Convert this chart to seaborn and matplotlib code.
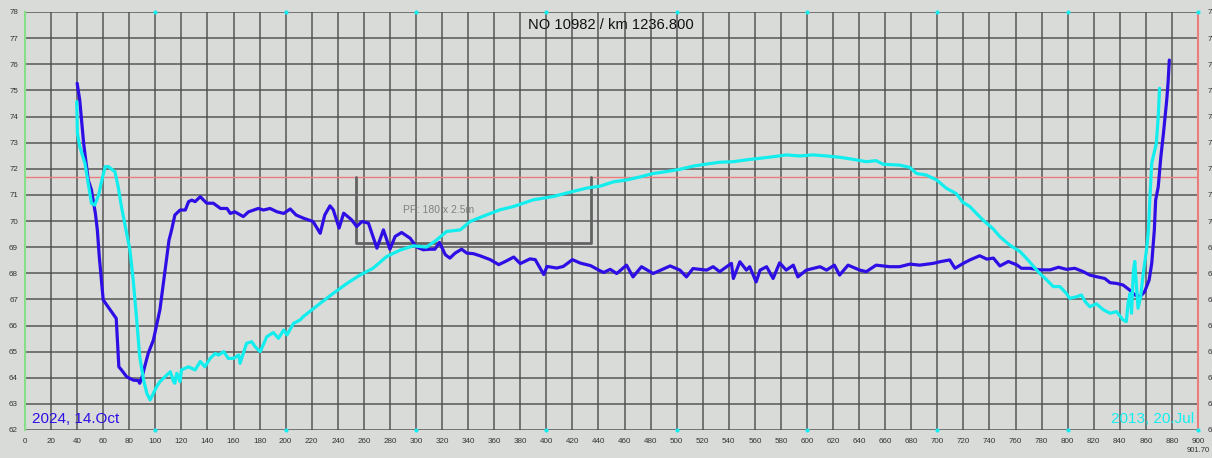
import numpy as np
import pandas as pd
import matplotlib
matplotlib.use("Agg")
import matplotlib.pyplot as plt
import seaborn as sns

# ---- data ----
blue_x = [40, 42, 45, 48.5, 51, 54, 55.5, 57, 60, 70, 72, 74, 78, 83, 87, 88, 89.5, 94.5, 98.5, 103.5,
          108.5, 110.5, 112.5, 115, 119, 123, 125.5, 128, 130.5, 134.5, 137, 139.5, 144.5, 150, 155, 157.5,
          161, 167.5, 171.5, 175.5, 179, 183, 188, 193.5, 198.5, 203.5, 208, 213.5, 221, 226.5, 230, 234,
          236.5, 241, 244.5, 250.5, 254.5, 258.5, 263.5, 270, 275, 280, 284, 289, 295.5, 300.5, 305.5, 311,
          314.5, 318, 322.5, 326, 330, 335, 339, 344, 349, 357, 363.5, 368.5, 375, 380, 387.5, 391.5, 398,
          400.5, 408, 413, 420, 426, 434, 441, 444, 449, 454, 461.5, 466.5, 473, 482, 495, 502.5, 507.5,
          512.5, 523, 528, 533, 542, 543.5, 548.5, 553.5, 556, 561, 564, 569, 574, 579, 584, 589.5, 593,
          599.5, 610, 615, 621, 625, 631.5, 640.5, 645.5, 653, 663.5, 671, 679, 686.5, 697, 702, 709.5,
          713.5, 720, 725, 732.5, 738, 743, 748, 754.5, 761, 764.5, 771, 778.5, 786.5, 793, 799, 805.5,
          812, 817, 822, 828.5, 832.5, 837.5, 842.5, 847.5, 851.5, 855.5, 859, 862.5, 864.5, 866.5, 867.5,
          869.5, 871.5, 873.5, 876, 877, 878]
blue_y = [75.27, 74.63, 72.97, 71.57, 71.19, 70.29, 69.66, 68.63, 66.98, 66.27, 64.42, 64.30, 64.04, 63.91,
          63.89, 63.79, 63.98, 64.93, 65.44, 66.60, 68.50, 69.27, 69.66, 70.23, 70.42, 70.42, 70.74, 70.80,
          70.74, 70.93, 70.80, 70.68, 70.68, 70.48, 70.48, 70.29, 70.35, 70.17, 70.35, 70.42, 70.48, 70.42,
          70.48, 70.35, 70.29, 70.46, 70.23, 70.11, 69.98, 69.53, 70.23, 70.58, 70.43, 69.73, 70.30, 70.05,
          69.79, 69.98, 69.92, 68.96, 69.66, 68.92, 69.41, 69.56, 69.34, 69.00, 68.90, 68.92, 68.92, 69.18,
          68.71, 68.58, 68.77, 68.92, 68.77, 68.75, 68.67, 68.52, 68.33, 68.45, 68.62, 68.37, 68.55, 68.52,
          67.95, 68.26, 68.20, 68.26, 68.52, 68.39, 68.29, 68.10, 68.03, 68.15, 67.99, 68.31, 67.86, 68.25,
          67.99, 68.28, 68.12, 67.86, 68.18, 68.12, 68.25, 68.06, 68.38, 67.80, 68.44, 68.12, 68.25, 67.67,
          68.12, 68.25, 67.80, 68.40, 68.12, 68.31, 67.86, 68.12, 68.25, 68.12, 68.31, 67.93, 68.31, 68.12,
          68.06, 68.31, 68.25, 68.25, 68.35, 68.31, 68.38, 68.44, 68.51, 68.19, 68.38, 68.51, 68.67, 68.54,
          68.58, 68.28, 68.45, 68.32, 68.19, 68.19, 68.13, 68.13, 68.23, 68.15, 68.19, 68.06, 67.93, 67.87,
          67.80, 67.64, 67.61, 67.55, 67.36, 67.17, 67.10, 67.29, 67.74, 68.38, 69.66, 70.80, 71.31, 72.46,
          73.36, 74.63, 75.27, 76.16]

cyan_x = [39.7, 40.2, 42, 46, 48.5, 51, 53.5, 56.5, 59, 61.5, 64, 69, 71.5, 74, 77.5, 80.5, 83, 85.5, 88,
          91, 93.5, 96, 98.5, 101, 103.5, 107.5, 111.5, 114, 115, 116.5, 119, 120, 125.5, 130.5, 134.5,
          138, 142, 146, 148.5, 152.5, 156, 160, 164, 165, 170, 174, 176.5, 180.5, 185.5, 190.5, 194.5,
          198.5, 201, 206, 211, 213.5, 226.5, 236.5, 247, 257, 267, 277.5, 288, 298, 308, 316, 323.5, 334,
          341.5, 354, 364.5, 374.5, 390, 405.5, 415.5, 431, 441, 451.5, 461.5, 472, 482, 492, 502.5, 512.5,
          523, 533, 543.5, 553.5, 564, 574, 584, 594.5, 604.5, 615, 625, 635.5, 645.5, 653, 658.5, 671,
          679, 684, 691.5, 699.5, 707, 714.5, 719.5, 725, 730, 735, 743, 748, 755.5, 763.5, 769.5, 775,
          778.5, 784, 789, 794, 799, 801.5, 807, 810.5, 813.5, 817, 822, 827.5, 832.5, 837.5, 842.5, 845,
          846.5, 848, 849, 850.5, 851.5, 854, 856, 858, 860.5, 862, 863, 864.5, 868, 869.5, 870.5]
cyan_y = [74.57, 73.36, 72.85, 72.21, 71.44, 70.68, 70.61, 71.00, 71.57, 72.08, 72.08, 71.89, 71.31, 70.55,
          69.66, 68.89, 67.74, 66.34, 64.81, 63.91, 63.40, 63.15, 63.40, 63.66, 63.85, 64.04, 64.23, 63.85,
          63.79, 64.17, 63.85, 64.30, 64.42, 64.30, 64.62, 64.42, 64.74, 64.93, 64.87, 65.00, 64.74, 64.74,
          64.87, 64.55, 65.32, 65.38, 65.19, 65.00, 65.57, 65.73, 65.51, 65.83, 65.64, 66.08, 66.21, 66.34,
          66.85, 67.23, 67.61, 67.93, 68.19, 68.64, 68.89, 69.05, 69.00, 69.28, 69.60, 69.66, 69.98, 70.23,
          70.43, 70.55, 70.81, 70.94, 71.07, 71.26, 71.33, 71.50, 71.57, 71.69, 71.82, 71.89, 71.98, 72.10,
          72.18, 72.25, 72.27, 72.34, 72.40, 72.46, 72.53, 72.49, 72.53, 72.49, 72.44, 72.36, 72.27, 72.31,
          72.17, 72.14, 72.05, 71.82, 71.76, 71.57, 71.25, 71.05, 70.72, 70.55, 70.29, 70.04, 69.69, 69.40,
          69.08, 68.83, 68.51, 68.19, 68.00, 67.74, 67.49, 67.49, 67.23, 67.04, 67.10, 67.17, 66.91, 66.72,
          66.83, 66.60, 66.47, 66.53, 66.21, 66.15, 66.91, 67.23, 66.47, 68.13, 68.45, 66.66, 67.10, 68.00,
          68.89, 69.66, 70.80, 72.21, 72.97, 73.99, 75.08]

bracket_x = [254, 254, 434, 434]
bracket_y = [71.70, 69.17, 69.17, 71.70]
limit_y = 71.68
x_ticks = list(range(0, 901, 20))
y_ticks = list(range(62, 79))
marker_x = list(range(100, 901, 100))

title_text = "NO 10982 / km 1236.800"
bracket_text = "PP: 180 x 2.5m"
label_new = "2024, 14.Oct"
label_old = "2013, 20.Jul"
corner_text = "901.70"

# ---- style ----
BG = "#d9dbd9"
sns.set_theme(style="white", rc={"axes.facecolor": BG, "figure.facecolor": BG})
plt.rcParams["font.family"] = ["Liberation Sans", "DejaVu Sans"]

fig = plt.figure(figsize=(12.12, 4.58), dpi=100)
ax = fig.add_axes([25 / 1212, 28 / 458, 1173 / 1212, 418 / 458])

blue_df = pd.DataFrame({"x": blue_x, "y": blue_y})
cyan_df = pd.DataFrame({"x": cyan_x, "y": cyan_y})

ax.set_xlim(0, 900)
ax.set_ylim(62, 78)
ax.set_xticks(x_ticks)
ax.set_yticks(y_ticks)
ax.grid(True, color="#4e4e4e", linewidth=1.15, alpha=0.9)
ax.set_axisbelow(True)

ax.axhline(limit_y, color="#ec7c7c", linewidth=1.0, zorder=2)
ax.plot(bracket_x, bracket_y, color="#626262", linewidth=2.0, zorder=2)
ax.text(317, 70.42, bracket_text, color="#808080", fontsize=7.5, ha="center", va="center", zorder=2)

sns.lineplot(data=blue_df, x="x", y="y", ax=ax, color="#2d0fe6", linewidth=2.3,
             estimator=None, sort=False, zorder=3)
sns.lineplot(data=cyan_df, x="x", y="y", ax=ax, color="#12eded", linewidth=2.3,
             estimator=None, sort=False, zorder=4)

ax.scatter(marker_x, [78] * len(marker_x), s=9, color="#12eded", clip_on=False, zorder=5, linewidths=0)
ax.scatter(marker_x, [62] * len(marker_x), s=9, color="#12eded", clip_on=False, zorder=5, linewidths=0)

ax.text(449.6, 77.5, title_text, fontsize=10.6, color="#111111", ha="center", va="center")
ax.text(5.4, 62.27, label_new, fontsize=11, color="#2d0fe6", ha="left", va="baseline")
ax.text(897, 62.27, label_old, fontsize=11, color="#12eded", ha="right", va="baseline")
fig.text(1210 / 1212, 4 / 458, corner_text, fontsize=5.5, color="#333333", ha="right", va="bottom")

ax.set_xlabel("")
ax.set_ylabel("")
ax.tick_params(axis="both", length=0, labelsize=5.8, labelcolor="#333333")
ax.tick_params(axis="x", pad=6)
ax.tick_params(axis="y", pad=5, labelright=True)
for lbl in ax.get_yticklabels(which="major"):
    pass
ax.yaxis.set_tick_params(which="major", pad=5)
for t in ax.yaxis.get_major_ticks():
    t.label2.set_x(1.0)
    t.set_pad(5)
# shift right-side labels a bit further out so they are cut by the image edge
import matplotlib.transforms as mtransforms
offset = mtransforms.ScaledTranslation(3 / 100, 0, fig.dpi_scale_trans)
for t in ax.yaxis.get_major_ticks():
    t.label2.set_transform(t.label2.get_transform() + offset)

for side in ("top", "bottom"):
    ax.spines[side].set_visible(False)
ax.spines["left"].set_color("#86e086")
ax.spines["left"].set_linewidth(1.5)
ax.spines["right"].set_color("#ec7c7c")
ax.spines["right"].set_linewidth(1.5)

fig.savefig("out.png", dpi=100, facecolor=BG)
